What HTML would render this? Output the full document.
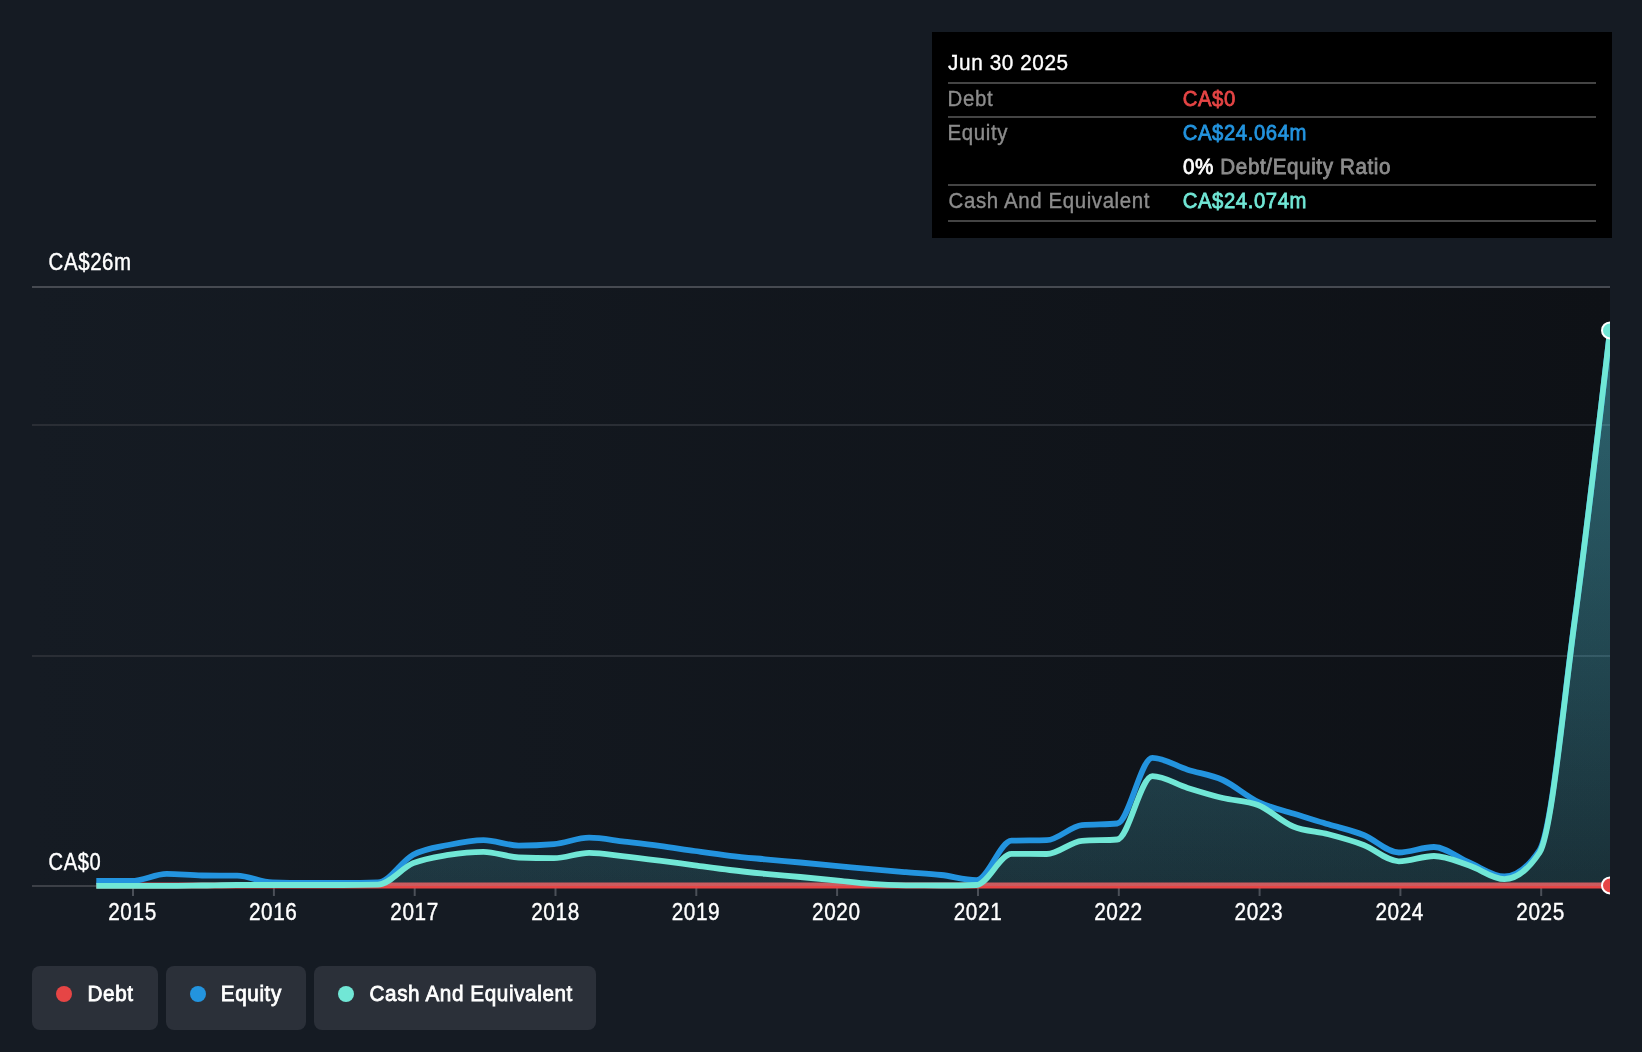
<!DOCTYPE html>
<html><head><meta charset="utf-8"><style>
html,body{margin:0;padding:0;}
body{width:1642px;height:1052px;background:#151b23;position:relative;overflow:hidden;font-family:"Liberation Sans",sans-serif;}
svg{position:absolute;left:0;top:0;will-change:transform;}
text{font-family:"Liberation Sans",sans-serif;}
</style></head><body>
<svg width="1642" height="1052" viewBox="0 0 1642 1052">
<defs>
<linearGradient id="plotbg" x1="0" y1="0" x2="1" y2="0">
<stop offset="0" stop-color="#151b23"/><stop offset="1" stop-color="#0e1116"/>
</linearGradient>
<linearGradient id="gE" gradientUnits="userSpaceOnUse" x1="0" y1="331" x2="0" y2="886">
<stop offset="0" stop-color="#2394df" stop-opacity="0.25"/><stop offset="1" stop-color="#2394df" stop-opacity="0.08"/>
</linearGradient>
<linearGradient id="gC" gradientUnits="userSpaceOnUse" x1="0" y1="331" x2="0" y2="886">
<stop offset="0" stop-color="#71e7d6" stop-opacity="0.28"/><stop offset="1" stop-color="#71e7d6" stop-opacity="0.1"/>
</linearGradient>
<clipPath id="clip"><rect x="32" y="200" width="1578" height="720"/></clipPath>
</defs>
<rect x="32" y="287" width="1578" height="599" fill="url(#plotbg)"/>
<line x1="32" y1="287" x2="1610" y2="287" stroke="#464a51" stroke-width="2"/>
<line x1="32" y1="425" x2="1610" y2="425" stroke="#2a2e35" stroke-width="2"/>
<line x1="32" y1="656" x2="1610" y2="656" stroke="#2a2e35" stroke-width="2"/>
<line x1="32" y1="886" x2="1610" y2="886" stroke="#3c4047" stroke-width="2"/>
<line x1="133.0" y1="887" x2="133.0" y2="896" stroke="#4b5058" stroke-width="2"/><line x1="273.9" y1="887" x2="273.9" y2="896" stroke="#4b5058" stroke-width="2"/><line x1="414.7" y1="887" x2="414.7" y2="896" stroke="#4b5058" stroke-width="2"/><line x1="555.5" y1="887" x2="555.5" y2="896" stroke="#4b5058" stroke-width="2"/><line x1="696.3" y1="887" x2="696.3" y2="896" stroke="#4b5058" stroke-width="2"/><line x1="837.1" y1="887" x2="837.1" y2="896" stroke="#4b5058" stroke-width="2"/><line x1="978.0" y1="887" x2="978.0" y2="896" stroke="#4b5058" stroke-width="2"/><line x1="1118.8" y1="887" x2="1118.8" y2="896" stroke="#4b5058" stroke-width="2"/><line x1="1259.6" y1="887" x2="1259.6" y2="896" stroke="#4b5058" stroke-width="2"/><line x1="1400.4" y1="887" x2="1400.4" y2="896" stroke="#4b5058" stroke-width="2"/><line x1="1541.2" y1="887" x2="1541.2" y2="896" stroke="#4b5058" stroke-width="2"/>
<g clip-path="url(#clip)">
<path d="M96.30,885.50C108.03,885.50,119.77,885.50,131.50,885.50C143.24,885.50,154.97,885.50,166.70,885.50C178.44,885.50,190.17,885.50,201.91,885.50C213.64,885.50,225.38,885.50,237.11,885.50C248.84,885.50,260.58,885.50,272.31,885.50C284.05,885.50,295.78,885.50,307.51,885.50C319.25,885.50,330.98,885.50,342.72,885.50C354.45,885.50,366.18,885.50,377.92,885.50C389.65,885.50,401.39,885.50,413.12,885.50C424.86,885.50,436.59,885.50,448.32,885.50C460.06,885.50,471.79,885.50,483.53,885.50C495.26,885.50,506.99,885.50,518.73,885.50C530.46,885.50,542.20,885.50,553.93,885.50C565.66,885.50,577.40,885.50,589.13,885.50C600.87,885.50,612.60,885.50,624.33,885.50C636.07,885.50,647.80,885.50,659.54,885.50C671.27,885.50,683.01,885.50,694.74,885.50C706.47,885.50,718.21,885.50,729.94,885.50C741.68,885.50,753.41,885.50,765.14,885.50C776.88,885.50,788.61,885.50,800.35,885.50C812.08,885.50,823.81,885.50,835.55,885.50C847.28,885.50,859.02,885.50,870.75,885.50C882.49,885.50,894.22,885.50,905.95,885.50C917.69,885.50,929.42,885.50,941.16,885.50C952.89,885.50,964.62,885.50,976.36,885.50C988.09,885.50,999.83,885.50,1011.56,885.50C1023.29,885.50,1035.03,885.50,1046.76,885.50C1058.50,885.50,1070.23,885.50,1081.97,885.50C1093.70,885.50,1105.43,885.50,1117.17,885.50C1128.90,885.50,1140.64,885.50,1152.37,885.50C1164.10,885.50,1175.84,885.50,1187.57,885.50C1199.31,885.50,1211.04,885.50,1222.77,885.50C1234.51,885.50,1246.24,885.50,1257.98,885.50C1269.71,885.50,1281.44,885.50,1293.18,885.50C1304.91,885.50,1316.65,885.50,1328.38,885.50C1340.12,885.50,1351.85,885.50,1363.58,885.50C1375.32,885.50,1387.05,885.50,1398.79,885.50C1410.52,885.50,1422.25,885.50,1433.99,885.50C1445.72,885.50,1457.46,885.50,1469.19,885.50C1480.92,885.50,1492.66,885.50,1504.39,885.50C1516.13,885.50,1527.86,885.50,1539.60,885.50C1551.33,885.50,1563.06,885.50,1574.80,885.50C1586.53,885.50,1598.27,885.50,1610.00,885.50" fill="none" stroke="#e64545" stroke-width="6"/>
<path d="M96.30,881.00C108.03,881.00,119.77,881.00,131.50,881.00C143.24,881.00,154.97,873.90,166.70,873.90C178.44,873.90,190.17,875.37,201.91,875.50C213.64,875.63,225.38,875.57,237.11,875.70C248.84,875.83,260.58,882.17,272.31,882.50C284.05,882.83,295.78,883.00,307.51,883.00C319.25,883.00,330.98,883.00,342.72,883.00C354.45,883.00,366.18,882.83,377.92,882.50C389.65,882.17,401.39,861.05,413.12,854.80C424.86,848.55,436.59,847.45,448.32,845.00C460.06,842.55,471.79,840.10,483.53,840.10C495.26,840.10,506.99,845.60,518.73,845.60C530.46,845.60,542.20,845.10,553.93,844.10C565.66,843.10,577.40,837.70,589.13,837.70C600.87,837.70,612.60,840.25,624.33,841.60C636.07,842.95,647.80,844.23,659.54,845.80C671.27,847.37,683.01,849.33,694.74,851.00C706.47,852.67,718.21,854.42,729.94,855.80C741.68,857.18,753.41,858.18,765.14,859.30C776.88,860.42,788.61,861.42,800.35,862.50C812.08,863.58,823.81,864.68,835.55,865.80C847.28,866.92,859.02,868.13,870.75,869.20C882.49,870.27,894.22,871.23,905.95,872.20C917.69,873.17,929.42,873.67,941.16,875.00C952.89,876.33,964.62,880.20,976.36,880.20C988.09,880.20,999.83,841.03,1011.56,840.70C1023.29,840.37,1035.03,840.53,1046.76,840.20C1058.50,839.87,1070.23,826.17,1081.97,825.10C1093.70,824.03,1105.43,824.57,1117.17,823.50C1128.90,822.43,1140.64,757.90,1152.37,757.90C1164.10,757.90,1175.84,766.02,1187.57,769.70C1199.31,773.38,1211.04,774.63,1222.77,780.00C1234.51,785.37,1246.24,796.30,1257.98,801.90C1269.71,807.50,1281.44,809.87,1293.18,813.60C1304.91,817.33,1316.65,820.73,1328.38,824.30C1340.12,827.87,1351.85,830.30,1363.58,835.00C1375.32,839.70,1387.05,852.50,1398.79,852.50C1410.52,852.50,1422.25,847.00,1433.99,847.00C1445.72,847.00,1457.46,857.58,1469.19,862.50C1480.92,867.42,1492.66,876.50,1504.39,876.50C1516.13,876.50,1527.86,867.67,1539.60,850.00C1551.33,832.33,1563.06,705.57,1574.80,619.00C1586.53,532.43,1598.27,431.52,1610.00,330.60L1610.00,886.0L96.30,886.0Z" fill="url(#gE)"/>
<path d="M96.30,885.90C108.03,885.90,119.77,885.90,131.50,885.90C143.24,885.90,154.97,885.90,166.70,885.90C178.44,885.90,190.17,885.65,201.91,885.50C213.64,885.35,225.38,885.00,237.11,885.00C248.84,885.00,260.58,885.00,272.31,885.00C284.05,885.00,295.78,885.00,307.51,885.00C319.25,885.00,330.98,885.00,342.72,885.00C354.45,885.00,366.18,884.87,377.92,884.60C389.65,884.33,401.39,868.15,413.12,863.20C424.86,858.25,436.59,856.80,448.32,854.90C460.06,853.00,471.79,851.80,483.53,851.80C495.26,851.80,506.99,857.03,518.73,857.50C530.46,857.97,542.20,858.20,553.93,858.20C565.66,858.20,577.40,852.80,589.13,852.80C600.87,852.80,612.60,855.00,624.33,856.30C636.07,857.60,647.80,859.10,659.54,860.60C671.27,862.10,683.01,863.73,694.74,865.30C706.47,866.87,718.21,868.58,729.94,870.00C741.68,871.42,753.41,872.63,765.14,873.80C776.88,874.97,788.61,875.90,800.35,877.00C812.08,878.10,823.81,879.25,835.55,880.40C847.28,881.55,859.02,883.08,870.75,883.90C882.49,884.72,894.22,885.17,905.95,885.30C917.69,885.43,929.42,885.50,941.16,885.50C952.89,885.50,964.62,885.33,976.36,885.00C988.09,884.67,999.83,853.90,1011.56,853.90C1023.29,853.90,1035.03,854.00,1046.76,854.00C1058.50,854.00,1070.23,841.67,1081.97,840.80C1093.70,839.93,1105.43,840.37,1117.17,839.50C1128.90,838.63,1140.64,776.20,1152.37,776.20C1164.10,776.20,1175.84,784.27,1187.57,787.90C1199.31,791.53,1211.04,795.15,1222.77,798.00C1234.51,800.85,1246.24,800.33,1257.98,805.00C1269.71,809.67,1281.44,821.62,1293.18,826.50C1304.91,831.38,1316.65,831.22,1328.38,834.30C1340.12,837.38,1351.85,840.50,1363.58,845.00C1375.32,849.50,1387.05,861.30,1398.79,861.30C1410.52,861.30,1422.25,856.00,1433.99,856.00C1445.72,856.00,1457.46,861.63,1469.19,865.50C1480.92,869.37,1492.66,879.20,1504.39,879.20C1516.13,879.20,1527.86,870.30,1539.60,852.50C1551.33,834.70,1563.06,707.02,1574.80,620.00C1586.53,532.98,1598.27,431.69,1610.00,330.40L1610.00,886.0L96.30,886.0Z" fill="url(#gC)"/>
<path d="M96.30,881.00C108.03,881.00,119.77,881.00,131.50,881.00C143.24,881.00,154.97,873.90,166.70,873.90C178.44,873.90,190.17,875.37,201.91,875.50C213.64,875.63,225.38,875.57,237.11,875.70C248.84,875.83,260.58,882.17,272.31,882.50C284.05,882.83,295.78,883.00,307.51,883.00C319.25,883.00,330.98,883.00,342.72,883.00C354.45,883.00,366.18,882.83,377.92,882.50C389.65,882.17,401.39,861.05,413.12,854.80C424.86,848.55,436.59,847.45,448.32,845.00C460.06,842.55,471.79,840.10,483.53,840.10C495.26,840.10,506.99,845.60,518.73,845.60C530.46,845.60,542.20,845.10,553.93,844.10C565.66,843.10,577.40,837.70,589.13,837.70C600.87,837.70,612.60,840.25,624.33,841.60C636.07,842.95,647.80,844.23,659.54,845.80C671.27,847.37,683.01,849.33,694.74,851.00C706.47,852.67,718.21,854.42,729.94,855.80C741.68,857.18,753.41,858.18,765.14,859.30C776.88,860.42,788.61,861.42,800.35,862.50C812.08,863.58,823.81,864.68,835.55,865.80C847.28,866.92,859.02,868.13,870.75,869.20C882.49,870.27,894.22,871.23,905.95,872.20C917.69,873.17,929.42,873.67,941.16,875.00C952.89,876.33,964.62,880.20,976.36,880.20C988.09,880.20,999.83,841.03,1011.56,840.70C1023.29,840.37,1035.03,840.53,1046.76,840.20C1058.50,839.87,1070.23,826.17,1081.97,825.10C1093.70,824.03,1105.43,824.57,1117.17,823.50C1128.90,822.43,1140.64,757.90,1152.37,757.90C1164.10,757.90,1175.84,766.02,1187.57,769.70C1199.31,773.38,1211.04,774.63,1222.77,780.00C1234.51,785.37,1246.24,796.30,1257.98,801.90C1269.71,807.50,1281.44,809.87,1293.18,813.60C1304.91,817.33,1316.65,820.73,1328.38,824.30C1340.12,827.87,1351.85,830.30,1363.58,835.00C1375.32,839.70,1387.05,852.50,1398.79,852.50C1410.52,852.50,1422.25,847.00,1433.99,847.00C1445.72,847.00,1457.46,857.58,1469.19,862.50C1480.92,867.42,1492.66,876.50,1504.39,876.50C1516.13,876.50,1527.86,867.67,1539.60,850.00C1551.33,832.33,1563.06,705.57,1574.80,619.00C1586.53,532.43,1598.27,431.52,1610.00,330.60" fill="none" stroke="#2394df" stroke-width="5.8" stroke-linejoin="round"/>
<path d="M96.30,885.90C108.03,885.90,119.77,885.90,131.50,885.90C143.24,885.90,154.97,885.90,166.70,885.90C178.44,885.90,190.17,885.65,201.91,885.50C213.64,885.35,225.38,885.00,237.11,885.00C248.84,885.00,260.58,885.00,272.31,885.00C284.05,885.00,295.78,885.00,307.51,885.00C319.25,885.00,330.98,885.00,342.72,885.00C354.45,885.00,366.18,884.87,377.92,884.60C389.65,884.33,401.39,868.15,413.12,863.20C424.86,858.25,436.59,856.80,448.32,854.90C460.06,853.00,471.79,851.80,483.53,851.80C495.26,851.80,506.99,857.03,518.73,857.50C530.46,857.97,542.20,858.20,553.93,858.20C565.66,858.20,577.40,852.80,589.13,852.80C600.87,852.80,612.60,855.00,624.33,856.30C636.07,857.60,647.80,859.10,659.54,860.60C671.27,862.10,683.01,863.73,694.74,865.30C706.47,866.87,718.21,868.58,729.94,870.00C741.68,871.42,753.41,872.63,765.14,873.80C776.88,874.97,788.61,875.90,800.35,877.00C812.08,878.10,823.81,879.25,835.55,880.40C847.28,881.55,859.02,883.08,870.75,883.90C882.49,884.72,894.22,885.17,905.95,885.30C917.69,885.43,929.42,885.50,941.16,885.50C952.89,885.50,964.62,885.33,976.36,885.00C988.09,884.67,999.83,853.90,1011.56,853.90C1023.29,853.90,1035.03,854.00,1046.76,854.00C1058.50,854.00,1070.23,841.67,1081.97,840.80C1093.70,839.93,1105.43,840.37,1117.17,839.50C1128.90,838.63,1140.64,776.20,1152.37,776.20C1164.10,776.20,1175.84,784.27,1187.57,787.90C1199.31,791.53,1211.04,795.15,1222.77,798.00C1234.51,800.85,1246.24,800.33,1257.98,805.00C1269.71,809.67,1281.44,821.62,1293.18,826.50C1304.91,831.38,1316.65,831.22,1328.38,834.30C1340.12,837.38,1351.85,840.50,1363.58,845.00C1375.32,849.50,1387.05,861.30,1398.79,861.30C1410.52,861.30,1422.25,856.00,1433.99,856.00C1445.72,856.00,1457.46,861.63,1469.19,865.50C1480.92,869.37,1492.66,879.20,1504.39,879.20C1516.13,879.20,1527.86,870.30,1539.60,852.50C1551.33,834.70,1563.06,707.02,1574.80,620.00C1586.53,532.98,1598.27,431.69,1610.00,330.40" fill="none" stroke="#71e7d6" stroke-width="5.8" stroke-linejoin="round"/>
<circle cx="1610.00" cy="330.40" r="8" fill="#71e7d6" stroke="#fff" stroke-width="2"/>
<circle cx="1610.00" cy="885.4" r="8" fill="#e64545" stroke="#fff" stroke-width="2"/>
</g>
<rect x="932" y="32" width="680" height="206" fill="#000"/>
<rect x="948" y="82" width="648" height="2" fill="#444"/>
<rect x="948" y="116" width="648" height="2" fill="#444"/>
<rect x="948" y="184" width="648" height="2" fill="#444"/>
<rect x="948" y="220" width="648" height="2" fill="#444"/>
<rect x="32" y="966" width="126" height="64" rx="8" fill="#2b3039"/>
<rect x="166" y="966" width="140" height="64" rx="8" fill="#2b3039"/>
<rect x="314" y="966" width="282" height="64" rx="8" fill="#2b3039"/>
<circle cx="64" cy="994" r="8" fill="#e64545"/>
<circle cx="198" cy="994" r="8" fill="#2394df"/>
<circle cx="346" cy="994" r="8" fill="#71e7d6"/>
<text transform="translate(48.6,270) scale(1,1.132)" font-size="20.44" font-weight="400" fill="#fff" text-anchor="start" letter-spacing="0.6" stroke="#fff" stroke-width="0.35">CA$26m</text>
<text transform="translate(48.6,870) scale(1,1.15)" font-size="20.12" font-weight="400" fill="#fff" text-anchor="start" letter-spacing="0.6" stroke="#fff" stroke-width="0.35">CA$0</text>
<text transform="translate(132.5,920) scale(1,1.115)" font-size="20.76" font-weight="400" fill="#fff" text-anchor="middle" letter-spacing="0.6" stroke="#fff" stroke-width="0.35">2015</text>
<text transform="translate(273.2,920) scale(1,1.115)" font-size="20.76" font-weight="400" fill="#fff" text-anchor="middle" letter-spacing="0.6" stroke="#fff" stroke-width="0.35">2016</text>
<text transform="translate(414.6,920) scale(1,1.115)" font-size="20.76" font-weight="400" fill="#fff" text-anchor="middle" letter-spacing="0.6" stroke="#fff" stroke-width="0.35">2017</text>
<text transform="translate(555.5,920) scale(1,1.115)" font-size="20.76" font-weight="400" fill="#fff" text-anchor="middle" letter-spacing="0.6" stroke="#fff" stroke-width="0.35">2018</text>
<text transform="translate(695.9,920) scale(1,1.115)" font-size="20.76" font-weight="400" fill="#fff" text-anchor="middle" letter-spacing="0.6" stroke="#fff" stroke-width="0.35">2019</text>
<text transform="translate(836.3,920) scale(1,1.115)" font-size="20.76" font-weight="400" fill="#fff" text-anchor="middle" letter-spacing="0.6" stroke="#fff" stroke-width="0.35">2020</text>
<text transform="translate(978.0,920) scale(1,1.115)" font-size="20.76" font-weight="400" fill="#fff" text-anchor="middle" letter-spacing="0.6" stroke="#fff" stroke-width="0.35">2021</text>
<text transform="translate(1118.4,920) scale(1,1.115)" font-size="20.76" font-weight="400" fill="#fff" text-anchor="middle" letter-spacing="0.6" stroke="#fff" stroke-width="0.35">2022</text>
<text transform="translate(1258.8,920) scale(1,1.115)" font-size="20.76" font-weight="400" fill="#fff" text-anchor="middle" letter-spacing="0.6" stroke="#fff" stroke-width="0.35">2023</text>
<text transform="translate(1399.7,920) scale(1,1.115)" font-size="20.76" font-weight="400" fill="#fff" text-anchor="middle" letter-spacing="0.6" stroke="#fff" stroke-width="0.35">2024</text>
<text transform="translate(1540.6,920) scale(1,1.115)" font-size="20.76" font-weight="400" fill="#fff" text-anchor="middle" letter-spacing="0.6" stroke="#fff" stroke-width="0.35">2025</text>
<text transform="translate(948.1,69.9) scale(1,1.053)" font-size="20.73" font-weight="400" fill="#fff" text-anchor="start" letter-spacing="0.6" stroke="#fff" stroke-width="0.35">Jun 30 2025</text>
<text transform="translate(947.6,105.9) scale(1,1.059)" font-size="20.48" font-weight="400" fill="#8c8c8c" text-anchor="start" letter-spacing="0.6" stroke="#8c8c8c" stroke-width="0.35">Debt</text>
<text transform="translate(947.6,139.7) scale(1,1.059)" font-size="20.48" font-weight="400" fill="#8c8c8c" text-anchor="start" letter-spacing="0.6" stroke="#8c8c8c" stroke-width="0.35">Equity</text>
<text transform="translate(948.6,207.7) scale(1,1.059)" font-size="20.48" font-weight="400" fill="#8c8c8c" text-anchor="start" letter-spacing="0.6" stroke="#8c8c8c" stroke-width="0.35">Cash And Equivalent</text>
<text transform="translate(1182.7,105.7) scale(1,1.055)" font-size="20.29" font-weight="400" fill="#e64545" text-anchor="start" letter-spacing="0.6" stroke="#e64545" stroke-width="0.75">CA$0</text>
<text transform="translate(1182.7,139.6) scale(1,1.055)" font-size="20.29" font-weight="400" fill="#2394df" text-anchor="start" letter-spacing="0.6" stroke="#2394df" stroke-width="0.75">CA$24.064m</text>
<text transform="translate(1183.0,173.7) scale(1,1.037)" font-size="20.64" font-weight="400" fill="#fff" text-anchor="start" letter-spacing="0.6" stroke="#fff" stroke-width="0.75">0%<tspan fill="#8c8c8c" stroke="#8c8c8c"> Debt/Equity Ratio</tspan></text>
<text transform="translate(1182.7,207.8) scale(1,1.055)" font-size="20.29" font-weight="400" fill="#71e7d6" text-anchor="start" letter-spacing="0.6" stroke="#71e7d6" stroke-width="0.75">CA$24.074m</text>
<text transform="translate(87.5,1001) scale(1,1.048)" font-size="20.69" font-weight="400" fill="#fff" text-anchor="start" letter-spacing="0.6" stroke="#fff" stroke-width="0.75">Debt</text>
<text transform="translate(220.8,1001) scale(1,1.048)" font-size="20.69" font-weight="400" fill="#fff" text-anchor="start" letter-spacing="0.6" stroke="#fff" stroke-width="0.75">Equity</text>
<text transform="translate(369.5,1001) scale(1,1.048)" font-size="20.69" font-weight="400" fill="#fff" text-anchor="start" letter-spacing="0.6" stroke="#fff" stroke-width="0.75">Cash And Equivalent</text>
</svg>
</body></html>
